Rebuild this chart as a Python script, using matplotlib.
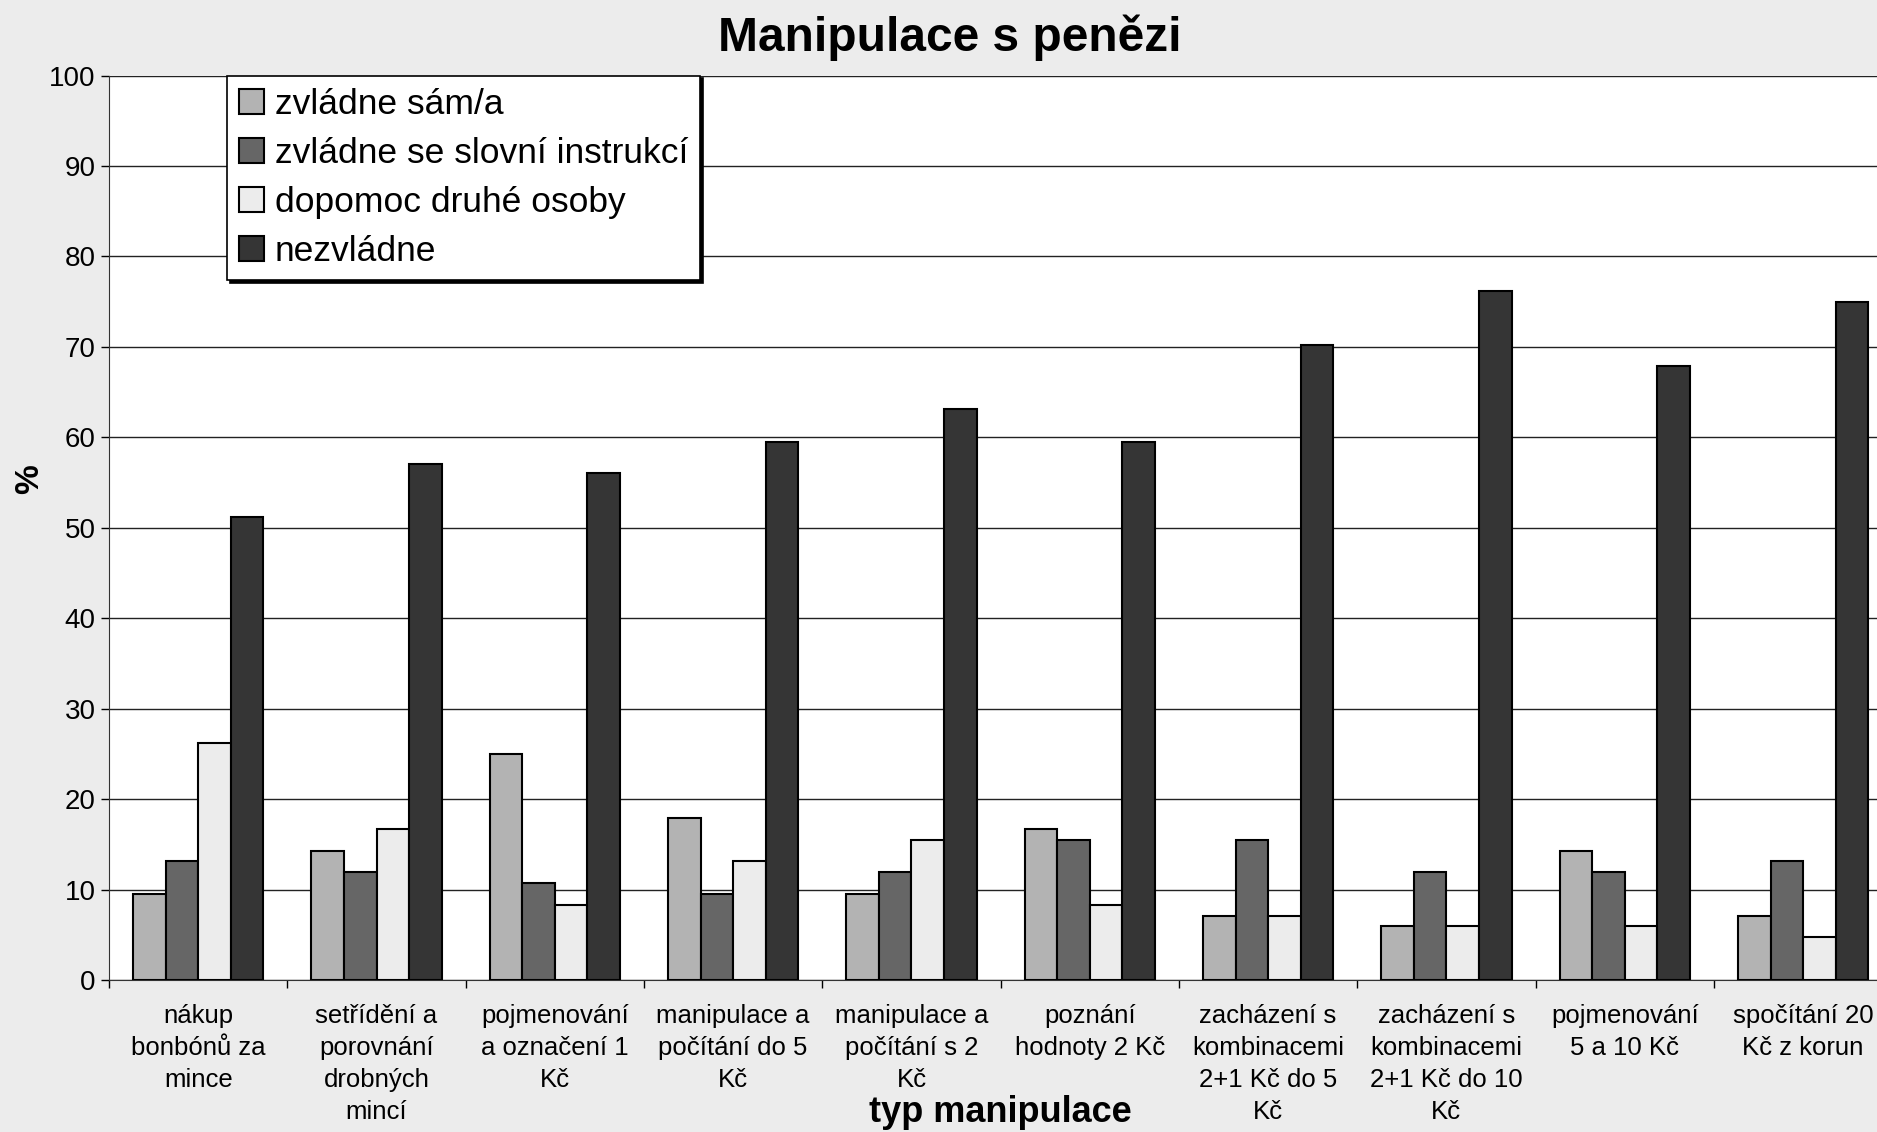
import numpy as np
import matplotlib.pyplot as plt

# data (percent)
categories = [
    "nákup\nbonbónů za\nmince",
    "setřídění a\nporovnání\ndrobných\nmincí",
    "pojmenování\na označení 1\nKč",
    "manipulace a\npočítání do 5\nKč",
    "manipulace a\npočítání s 2\nKč",
    "poznání\nhodnoty 2 Kč",
    "zacházení s\nkombinacemi\n2+1 Kč do 5\nKč",
    "zacházení s\nkombinacemi\n2+1 Kč do 10\nKč",
    "pojmenování\n5 a 10 Kč",
    "spočítání 20\nKč z korun",
]
zvladne_sam = [9.5, 14.3, 25.0, 17.9, 9.5, 16.7, 7.1, 6.0, 14.3, 7.1]
zvladne_instrukce = [13.1, 11.9, 10.7, 9.5, 11.9, 15.5, 15.5, 11.9, 11.9, 13.1]
dopomoc = [26.2, 16.7, 8.3, 13.1, 15.5, 8.3, 7.1, 6.0, 6.0, 4.8]
nezvladne = [51.2, 57.1, 56.0, 59.5, 63.1, 59.5, 70.2, 76.2, 67.9, 75.0]

series_names = ["zvládne sám/a", "zvládne se slovní instrukcí",
                "dopomoc druhé osoby", "nezvládne"]
colors = ["#b3b3b3", "#666666", "#ececec", "#353535"]


def main():
    plt.rcParams['font.family'] = ['Liberation Sans', 'DejaVu Sans']
    fig = plt.figure(figsize=(18.77, 11.32), dpi=100, facecolor="#ececec")
    ax = fig.add_axes([0.0581, 0.1343, 0.950, 0.799])
    ax.set_facecolor("white")

    x = np.arange(len(categories))
    w = 0.1825
    series = [zvladne_sam, zvladne_instrukce, dopomoc, nezvladne]
    for i, vals in enumerate(series):
        ax.bar(x + (i - 1.5) * w, vals, w, color=colors[i], edgecolor="black",
               linewidth=1.5, label=series_names[i], zorder=3)

    ax.set_xlim(-0.5, len(categories) - 0.5)
    ax.set_ylim(0, 100)
    ax.set_yticks(np.arange(0, 101, 10))
    ax.yaxis.grid(True, color="#222222", linewidth=1.0, zorder=0)
    ax.tick_params(axis="y", labelsize=20, length=6, width=1, direction="out")
    ax.set_xticks(x)
    ax.set_xticklabels(categories, fontsize=18.5, linespacing=1.43, va="top")
    ax.tick_params(axis="x", length=0, pad=17)
    ax.set_xticks(np.arange(-0.5, len(categories), 1), minor=True)
    ax.tick_params(axis="x", which="minor", length=6, width=1)

    for s in ["top", "right"]:
        ax.spines[s].set_visible(False)
    ax.spines["left"].set_color("#333333")
    ax.spines["bottom"].set_color("#333333")

    leg = ax.legend(loc="upper left", bbox_to_anchor=(0.066, 1.0),
                    borderaxespad=0, fontsize=25.5, frameon=True, fancybox=False,
                    edgecolor="black", handlelength=0.7, handleheight=0.7,
                    handletextpad=0.3, labelspacing=0.45, borderpad=0.35,
                    shadow={"color": "black", "alpha": 1.0})
    leg.get_frame().set_linewidth(1.2)
    for p in leg.get_patches():
        p.set_edgecolor("black")

    fig.text(0.506, 0.967, "Manipulace s penězi", fontsize=34.5, fontweight="bold",
             ha="center", va="center")
    fig.text(0.533, 0.017, "typ manipulace", fontsize=26, fontweight="bold",
             ha="center", va="center")
    fig.text(0.016, 0.577, "%", fontsize=24, fontweight="bold", rotation=90,
             ha="center", va="center")

    fig.savefig("out.png", dpi=100, facecolor=fig.get_facecolor())


if __name__ == "__main__":
    main()
